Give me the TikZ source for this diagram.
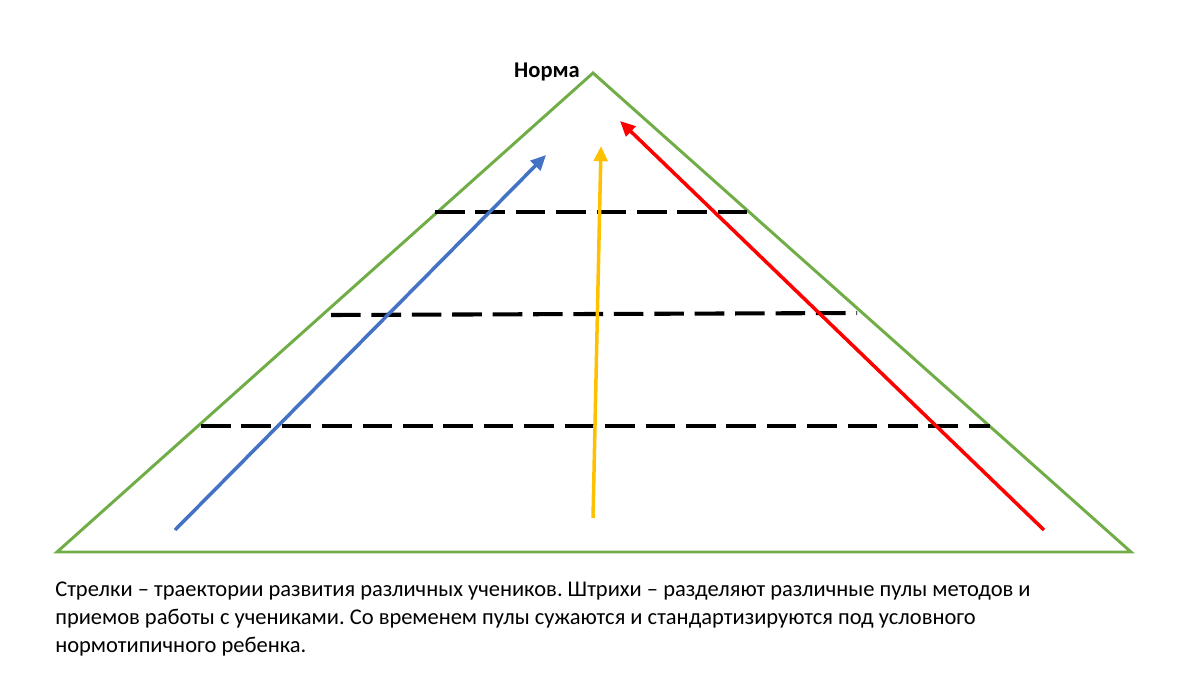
\documentclass[tikz,border=0pt]{standalone}
\usepackage{fontspec}
\setmainfont{Carlito}
\usepackage{xcolor}
\usetikzlibrary{arrows.meta}
\frenchspacing
\definecolor{pyrgreen}{HTML}{70AD47}
\definecolor{pathblue}{HTML}{4472C4}
\definecolor{pathgold}{HTML}{FFC000}
\definecolor{pathred}{HTML}{FF0000}
\tikzstyle{every node}=[font=\fontsize{16pt}{19.8pt}\selectfont]
\tikzstyle{edge} = [draw, pyrgreen, line width=2.1pt, line join=miter]
\tikzstyle{pool} = [draw, black, line width=2.9pt, dash pattern=on 0.74cm off 0.27cm]
\tikzstyle{track} = [draw, line width=2.5pt, -{Triangle[length=0.38cm,width=0.34cm]}]

\begin{document}
\begin{tikzpicture}[x=0.025cm, y=-0.025cm]
    \useasboundingbox (0,0) rectangle (1200,675);
    % Place nodes
    \coordinate (top) at (593,73);
    \coordinate (left) at (57,552);
    \coordinate (right) at (1131,552);
    \node [font=\fontsize{16pt}{18pt}\selectfont\bfseries] (norma) at (547,72) {Норма};
    \coordinate (b1) at (175,530);
    \coordinate (b2) at (546,155);
    \coordinate (y1) at (593,518);
    \coordinate (y2) at (601,146);
    \coordinate (r1) at (1044,530);
    \coordinate (r2) at (620,121);
    \coordinate (d1l) at (435,212);
    \coordinate (d1r) at (752,212);
    \coordinate (d2l) at (331,315);
    \coordinate (d2r) at (857,313);
    \coordinate (d3l) at (201,426);
    \coordinate (d3r) at (990,426);
    \node [anchor=north west, align=left, inner sep=0pt] (caption) at (55,582)
        {Стрелки – траектории развития различных учеников. Штрихи – разделяют различные пулы методов и\\
         приемов работы с учениками. Со временем пулы сужаются и стандартизируются под условного\\
         нормотипичного ребенка.};
    % Draw edges
    \path [edge] (top) -- (right) -- (left) -- cycle;
    \path [pool] (d1l) -- (d1r);
    \path [pool] (d2l) -- (d2r);
    \path [pool] (d3l) -- (d3r);
    \path [track, pathblue] (b1) -- (b2);
    \path [track, pathgold] (y1) -- (y2);
    \path [track, pathred] (r1) -- (r2);
\end{tikzpicture}
\end{document}
